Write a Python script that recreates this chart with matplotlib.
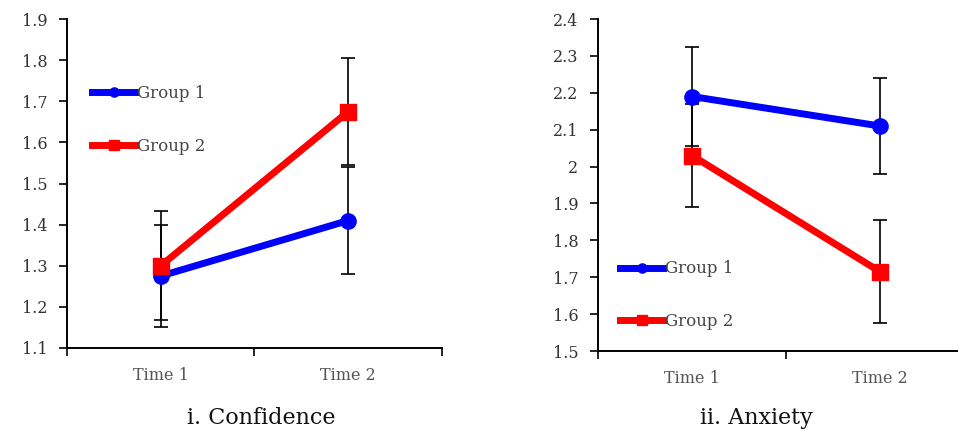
import matplotlib
matplotlib.use('Agg')
import matplotlib.pyplot as plt

plt.rcParams['font.family'] = ['DejaVu Serif', 'Liberation Serif']

times = ['Time 1', 'Time 2']
groups = ['Group 1', 'Group 2']

conf_g1 = [1.275, 1.41]
conf_g1_err = [0.125, 0.13]
conf_g2 = [1.30, 1.675]
conf_g2_err = [0.133, 0.13]

anx_g1 = [2.19, 2.11]
anx_g1_err = [0.135, 0.13]
anx_g2 = [2.03, 1.715]
anx_g2_err = [0.14, 0.14]

fig = plt.figure(figsize=(9.58, 4.30), dpi=100)
ax1 = fig.add_axes([0.0699, 0.1907, 0.3915, 0.765])
ax2 = fig.add_axes([0.6242, 0.1837, 0.3925, 0.772])

def draw_panel(ax, g1, e1, g2, e2, ylim, step, leg_anchor):
    x = [0.5, 1.5]
    ax.errorbar(x, g1, yerr=e1, fmt='none', ecolor='black', elinewidth=1.2,
                capsize=5, capthick=1.2, zorder=1)
    ax.errorbar(x, g2, yerr=e2, fmt='none', ecolor='black', elinewidth=1.2,
                capsize=5, capthick=1.2, zorder=1)
    ax.plot(x, g1, color='#0000ff', lw=5, marker='o', markersize=11,
            label=groups[0], zorder=2)
    ax.plot(x, g2, color='#ff0000', lw=5, marker='s', markersize=12,
            label=groups[1], zorder=3)
    ax.set_xlim(0, 2)
    ax.set_ylim(*ylim)
    n = int(round((ylim[1] - ylim[0]) / step))
    yt = [round(ylim[0] + i * step, 2) for i in range(n + 1)]
    ax.set_yticks(yt)
    ax.set_yticklabels([('%g' % v) for v in yt])
    ax.set_xticks([0, 1, 2])
    ax.set_xticklabels([])
    ax.set_xticks(x, minor=True)
    ax.set_xticklabels(times, minor=True)
    ax.tick_params(axis='x', which='minor', length=0, pad=14,
                   labelcolor='#555555', labelsize=11.5)
    ax.tick_params(axis='both', which='major', length=6, width=1.2, direction='out')
    ax.tick_params(axis='y', pad=8, labelcolor='#333333', labelsize=11.5)
    for s in ['top', 'right']:
        ax.spines[s].set_visible(False)
    for s in ['left', 'bottom']:
        ax.spines[s].set_linewidth(1.4)
    leg = ax.legend(loc='upper left', bbox_to_anchor=leg_anchor, frameon=False,
                    fontsize=12, handlelength=2.6, handletextpad=0.1,
                    labelspacing=2.15, markerscale=0.6, borderpad=0, borderaxespad=0)
    for t in leg.get_texts():
        t.set_color('#444444')
    ax.patch.set_alpha(0)

draw_panel(ax1, conf_g1, conf_g1_err, conf_g2, conf_g2_err, (1.1, 1.9), 0.1, (0.067, 0.799))
draw_panel(ax2, anx_g1, anx_g1_err, anx_g2, anx_g2_err, (1.5, 2.4), 0.1, (0.0585, 0.273))

fig.text(0.273, 0.028, 'i. Confidence', ha='center', va='center', fontsize=16, color='#111111')
fig.text(0.790, 0.028, 'ii. Anxiety', ha='center', va='center', fontsize=16, color='#111111')

fig.savefig('out.png', dpi=100)
